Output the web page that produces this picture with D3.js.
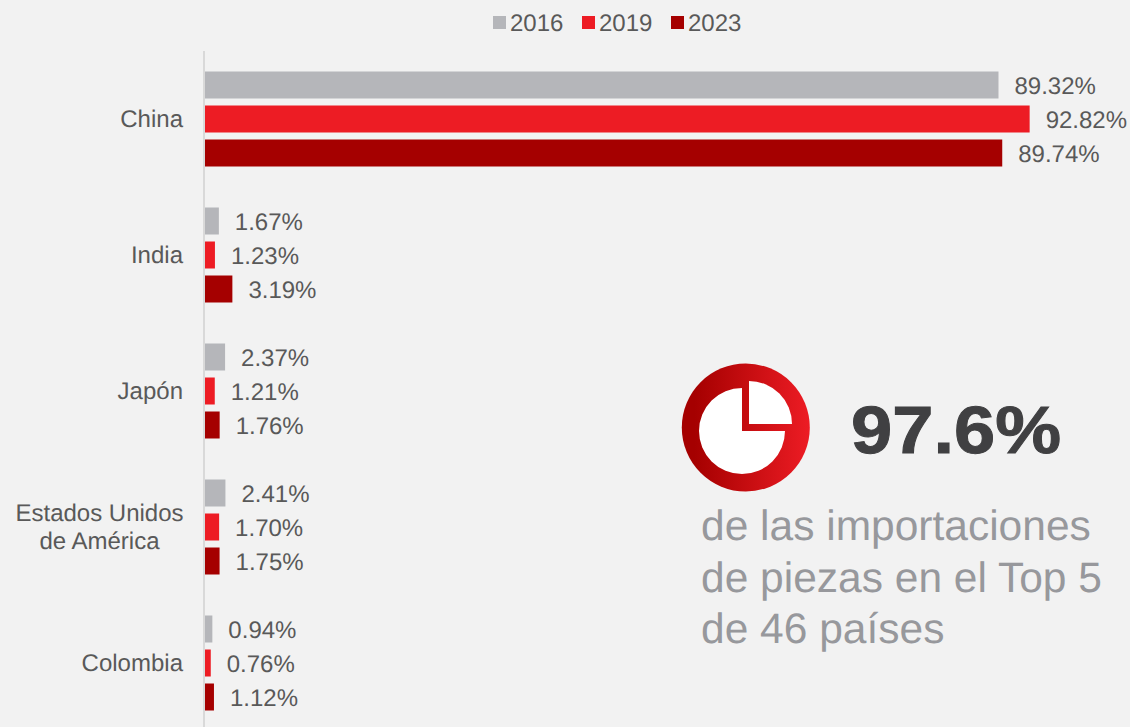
<!DOCTYPE html>
<html>
<head>
<meta charset="utf-8">
<script src="https://cdn.jsdelivr.net/npm/d3@7"></script>
<style>
  html, body { margin: 0; padding: 0; background: #f2f2f2; overflow: hidden; }
  text { font-family: "Liberation Sans", Arial, sans-serif; text-rendering: geometricPrecision; }
</style>
</head>
<body>
<div id="chart"></div>
<script>
const paises = ["China", "India", "Japón", "Estados Unidos|de América", "Colombia"];
const anios = ["2016", "2019", "2023"];
const v2016 = [89.32, 1.67, 2.37, 2.41, 0.94];
const v2019 = [92.82, 1.23, 1.21, 1.70, 0.76];
const v2023 = [89.74, 3.19, 1.76, 1.75, 1.12];
const colores = ["#b5b6ba", "#ed1c24", "#a50000"];
const nota = ["de las importaciones", "de piezas en el Top 5", "de 46 países"];

const w = 1130, h = 727;
const svg = d3.select("#chart").append("svg").attr("width", w).attr("height", h);

const series = [v2016, v2019, v2023];
const x = d3.scaleLinear().domain([0, 100]).range([204, 1093.5]);
const y0 = d3.scaleBand().domain(paises).range([51, 731]);
const y1 = d3.scaleBand().domain(anios).range([0, y0.bandwidth()]).paddingInner(0.206).paddingOuter(0.603);
const clr = d3.scaleOrdinal().domain(anios).range(colores);

// barras y etiquetas
anios.forEach((a, i) => {
  paises.forEach((p, j) => {
    const val = series[i][j];
    svg.append("rect")
      .attr("x", x(0))
      .attr("y", y0(p) + y1(a))
      .attr("width", x(val) - x(0))
      .attr("height", y1.bandwidth())
      .attr("fill", clr(a));
    svg.append("text")
      .attr("x", x(val) + 16)
      .attr("y", y0(p) + y1(a) + y1.bandwidth() / 2 + 9)
      .attr("font-size", 24)
      .attr("fill", "#595959")
      .text(val.toFixed(2) + "%");
  });
});

// eje vertical
svg.append("line")
  .attr("x1", 204).attr("x2", 204)
  .attr("y1", 51).attr("y2", h)
  .attr("stroke", "#d9d9d9").attr("stroke-width", 2);

// nombres de paises
paises.forEach(p => {
  const partes = p.split("|");
  const cy = y0(p) + y0.bandwidth() / 2;
  partes.forEach((t, k) => {
    svg.append("text")
      .attr("x", partes.length > 1 ? 99.5 : 183)
      .attr("y", cy + 8 + (k - (partes.length - 1) / 2) * 28)
      .attr("text-anchor", partes.length > 1 ? "middle" : "end")
      .attr("font-size", 24)
      .attr("fill", "#595959")
      .text(t);
  });
});

// leyenda
const legendX = [493, 582, 671];
anios.forEach((a, i) => {
  svg.append("rect").attr("x", legendX[i]).attr("y", 16).attr("width", 13).attr("height", 13).attr("fill", clr(a));
  svg.append("text").attr("x", legendX[i] + 17).attr("y", 31).attr("font-size", 24).attr("fill", "#595959").text(a);
});

// icono
const grad = svg.append("defs").append("linearGradient").attr("id", "rojo");
grad.append("stop").attr("offset", "0.1").attr("stop-color", "#a50000");
grad.append("stop").attr("offset", "1").attr("stop-color", "#ed1c24");

svg.append("circle").attr("cx", 745.8).attr("cy", 427.5).attr("r", 64).attr("fill", "url(#rojo)");
svg.append("g").attr("transform", "translate(742,431)").append("path")
  .attr("d", d3.arc().innerRadius(0).outerRadius(43).startAngle(Math.PI / 2).endAngle(2 * Math.PI)())
  .attr("fill", "#fff");
svg.append("g").attr("transform", "translate(749,424)").append("path")
  .attr("d", d3.arc().innerRadius(0).outerRadius(43).startAngle(0).endAngle(Math.PI / 2)())
  .attr("fill", "#fff");

svg.append("text")
  .attr("x", 851).attr("y", 452.5)
  .attr("font-size", 67).attr("font-weight", "bold")
  .attr("textLength", 210).attr("lengthAdjust", "spacingAndGlyphs")
  .attr("stroke", "#404042").attr("stroke-width", 1)
  .attr("fill", "#404042")
  .text("97.6%");

nota.forEach((t, i) => {
  svg.append("text")
    .attr("x", 701).attr("y", 540 + i * 51.5)
    .attr("font-size", 42.5)
    .attr("fill", "#97989c")
    .text(t);
});
</script>
</body>
</html>
